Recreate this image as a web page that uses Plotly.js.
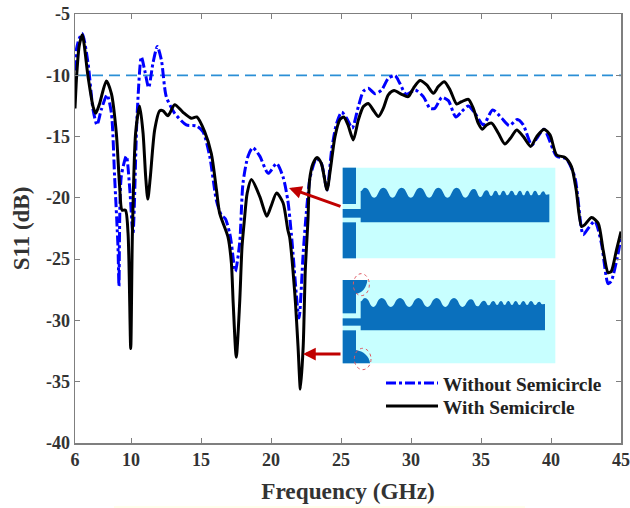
<!DOCTYPE html>
<html>
<head>
<meta charset="utf-8">
<script src="https://cdn.plot.ly/plotly-3.0.1.min.js"></script>
<style>html,body{margin:0;padding:0;background:#fff}</style>
</head>
<body>
<div id="chart" style="width:630px;height:508px"></div>
<script>
var freqWithout = [6,6.1,6.3,6.52,6.93,7.29,7.57,7.88,8.29,8.6,8.83,9.07,9.14,9.3,9.67,9.9,10.14,10.43,10.74,10.98,11.26,11.57,11.88,12.17,12.52,13.12,13.95,14.67,15.14,15.62,16.1,16.45,16.74,17.05,17.17,17.45,17.76,18,18.36,18.7,19.2,19.8,20.4,20.86,21.2,21.45,21.57,22,22.3,22.52,22.8,23.24,23.6,24,24.33,24.69,25.05,25.4,25.8,26.24,26.6,26.95,27.43,27.9,28.38,28.86,29.2,29.64,30.3,30.88,31.36,31.7,32.2,32.67,33.2,33.62,34.1,34.57,35.17,35.83,36.48,37.02,37.6,38.02,38.62,38.98,39.5,40.4,41.07,41.7,42.3,42.65,43.13,43.6,44.08,44.3,44.8,45];
var s11Without = [-9.6,-7.9,-7,-6.6,-9,-12.8,-14.05,-12.8,-11.6,-13.1,-18.3,-24,-27.2,-18.3,-16.6,-19.1,-22.9,-13.4,-8.5,-9.6,-11,-9,-7.66,-8.75,-11.74,-13.1,-14.05,-14.13,-14.6,-16.6,-20.2,-21.4,-21.7,-22.9,-23.7,-26,-23.7,-18.8,-16.6,-15.9,-16.6,-18,-17.2,-18.3,-20.2,-22.9,-24.5,-29.8,-24.5,-21.25,-18.3,-16.8,-17.2,-19.35,-16.1,-13.9,-13,-13.5,-14.3,-12.55,-11.3,-11.06,-11.5,-11.2,-10.24,-10.03,-10.65,-11.55,-11.2,-11.74,-12.7,-12.7,-11.8,-12.07,-13.4,-12.96,-12.5,-13.1,-14.05,-12.83,-13.5,-14.1,-13.6,-14.05,-15.7,-15.14,-14.4,-16.6,-16.8,-18.3,-23,-22.5,-21.9,-23.7,-27,-26.8,-24.5,-23.15];

var freqWith = [6,6.12,6.3,6.52,6.93,7.29,7.48,7.76,8.24,8.6,8.95,9.19,9.36,9.6,9.79,9.98,10.1,10.33,10.62,10.86,11.05,11.2,11.38,11.69,12.05,12.29,12.64,13.12,13.7,14.3,14.7,15.26,15.74,16.1,16.33,16.93,17.17,17.3,17.52,17.76,17.93,18.1,18.3,18.6,19.2,19.7,20,20.4,20.86,21.2,21.33,21.7,21.93,22.1,22.3,22.45,22.64,22.76,23,23.29,23.6,24,24.24,24.57,24.93,25.2,25.5,25.88,26.24,26.6,26.95,27.3,27.67,28.02,28.38,28.79,29.33,29.8,30.17,30.64,31.12,31.6,31.95,32.38,32.79,33.26,33.62,34.1,34.45,34.8,35.1,35.4,35.76,36.24,36.7,37.1,37.55,38.02,38.55,38.98,39.5,39.93,40.4,41,41.46,41.8,42.18,42.4,42.9,43.37,43.72,44.08,44.3,44.68,45];
var s11With = [-12.7,-10,-7.6,-6.7,-10.1,-12.55,-13.1,-12.3,-10.46,-11.5,-14.7,-19.1,-21,-21,-22.9,-32.3,-22.9,-14.7,-12.5,-14.7,-18.3,-20.1,-18.3,-14.46,-12.9,-12.9,-13.3,-12.4,-13,-13.5,-13.4,-14.6,-16.4,-19.3,-21.25,-23.2,-25.3,-28.6,-33,-28.6,-24,-21.8,-19.6,-18.5,-19.9,-21.5,-20.7,-19.6,-20.4,-22.6,-23.2,-27.8,-32.1,-35.6,-32.1,-25.9,-21.8,-18.5,-17.2,-16.7,-17.2,-19.35,-17.7,-15,-13.6,-13.4,-14.05,-15.27,-13.64,-12.55,-12.3,-12.83,-13.37,-12.7,-11.6,-11.25,-11.55,-11.74,-11.06,-10.43,-10.79,-11.47,-10.92,-10.52,-11.2,-12.34,-12.15,-11.96,-12.7,-13.9,-14.4,-14.05,-13.9,-14.73,-15.6,-15.14,-14.46,-15,-15.8,-15,-14.4,-14.86,-16.5,-16.7,-17.45,-19.35,-22.34,-22.2,-21.6,-22.07,-24.24,-26.1,-26,-24.24,-22.75];

var refFreq = [6,45];
var refS11 = [-10,-10];
var xTickVals = [6,10,15,20,25,30,35,40,45];
var xTickText = ['6','10','15','20','25','30','35','40','45'];
var yTickVals = [-5,-10,-15,-20,-25,-30,-35,-40];
var yTickText = ['-5','-10','-15','-20','-25','-30','-35','-40'];
var nameWithout = 'Without Semicircle';
var nameWith = 'With Semicircle';

/* inset drawing helpers: pixel position on the page to axis position */
function fx(px){return 6+(px-75)/14;}
function fy(py){return -5-(py-14)/12.2571;}
function zx(X){return fx(330+X/3);}
function zy(Y){return fy(150+Y/3);}
var CYAN='#c8ffff', BLUE='#0a70bd';
function rect(x0,y0,x1,y1,c){return {type:'rect',xref:'x',yref:'y',x0:zx(x0),y0:zy(y0),x1:zx(x1),y1:zy(y1),fillcolor:c,line:{width:0},layer:'above'};}
function pathShape(d,c,line){return {type:'path',xref:'x',yref:'y',path:d,fillcolor:c,line:line||{width:0},layer:'above'};}
function P(X,Y){return zx(X)+','+zy(Y);}
function scallop(x0,x1,yBottom,yEnd,bumps){
  var d='M'+P(x0,yBottom)+' L'+P(x0,bumps[0][1]+10);
  var prevX=x0,prevY=bumps[0][1]+10;
  bumps.forEach(function(b,i){
    var bx=b[0],top=b[1],val=b[2];
    var next=i<bumps.length-1?bumps[i+1][0]:x1;
    var vx=(bx+next)/2;
    var dl=bx-prevX, dr=vx-bx;
    d+=' C'+P(prevX+dl*0.45,prevY)+' '+P(bx-dl*0.55,top)+' '+P(bx,top);
    d+=' C'+P(bx+dr*0.55,top)+' '+P(vx-dr*0.45,val)+' '+P(vx,val);
    prevX=vx;prevY=val;
  });
  d+=' L'+P(x1,yEnd)+' L'+P(x1,yBottom)+' Z';
  return d;
}
function ellipsePath(cx,cy,rx,ry){
  return {type:'circle',xref:'x',yref:'y',x0:zx(cx-rx),x1:zx(cx+rx),y0:zy(cy-ry),y1:zy(cy+ry),fillcolor:'rgba(0,0,0,0)',line:{color:'#e0565f',width:1,dash:'dot'},layer:'above'};
}
var bumps1=[[105,113,143],[160,113,143],[215,113,143],[270,113,143],[325,113,143],[380,113,143],[432,117,141],[470,121,138],[497,122,136],[520,122,136],[545,122,136],[570,122,136],[592,122,136],[615,122,136],[640,124,134]];
var bumps2=[[105,444,471],[155,444,471],[210,444,471],[265,444,471],[320,444,471],[372,444,471],[423,448,469],[462,452,466],[490,453,465],[513,453,465],[535,453,465],[557,453,465],[580,453,465],[603,453,465],[628,455,463]];

var shapes=[
  rect(38,53,676,325,CYAN),
  rect(38,53,78,162,BLUE),
  rect(38,217,78,325,BLUE),
  rect(38,177,95,203,BLUE),
  pathShape(scallop(92,658,217,133,bumps1),BLUE),
  rect(38,390,676,640,CYAN),
  rect(38,390,78,490,BLUE),
  rect(38,541,78,640,BLUE),
  rect(38,505,95,527,BLUE),
  pathShape(scallop(92,645,541,462,bumps2),BLUE),
  pathShape('M'+P(78,390)+' L'+P(112,390)+' C'+P(110,412)+' '+P(98,428)+' '+P(78,432)+' Z',BLUE),
  pathShape('M'+P(78,640)+' L'+P(120,640)+' C'+P(118,618)+' '+P(100,604)+' '+P(78,600)+' Z',BLUE),
  ellipsePath(94,404,24,33),
  ellipsePath(98,627,25,32),
  {type:'line',xref:'paper',yref:'paper',x0:(114-75)/546,x1:(525-75)/546,y0:(443-507)/429,y1:(443-507)/429,line:{color:'#ffffd8',width:1},layer:'above'}
];

var fontFam='"Liberation Serif","Times New Roman",serif';
var ARROW='#c00000';
var annotations=[
  {xref:'x',yref:'y',axref:'x',ayref:'y',x:fx(289),y:fy(188),ax:fx(342),ay:fy(207),text:'',showarrow:true,arrowhead:2,arrowsize:0.85,arrowwidth:3,arrowcolor:ARROW},
  {xref:'x',yref:'y',axref:'x',ayref:'y',x:fx(303),y:fy(354),ax:fx(342),ay:fy(354),text:'',showarrow:true,arrowhead:2,arrowsize:0.85,arrowwidth:3,arrowcolor:ARROW}
];

var traces=[
  {x:refFreq,y:refS11,mode:'lines',showlegend:false,hoverinfo:'skip',line:{color:'#2b8fd6',width:1.8,dash:'11px,6px'}},
  {x:freqWithout,y:s11Without,mode:'lines',name:nameWithout,legend:'legend',line:{color:'#0000ff',width:3,shape:'spline',smoothing:0.7,dash:'10px,3px,3px,3px'}},
  {x:freqWith,y:s11With,mode:'lines',name:nameWith,legend:'legend2',line:{color:'#000000',width:3,shape:'spline',smoothing:0.7}}
];

var axisBase={showgrid:false,zeroline:false,showline:true,linecolor:'#7f7f7f',linewidth:1.5,mirror:'ticks',ticks:'inside',ticklen:5,tickwidth:1,tickcolor:'#7f7f7f',tickmode:'array',tickfont:{family:fontFam,size:18,color:'#333333',weight:'bold'}};
var legendFont={family:fontFam,size:19.3,color:'#222222',weight:'bold'};

var layout={
  width:630,height:508,autosize:false,
  paper_bgcolor:'#ffffff',plot_bgcolor:'#ffffff',
  margin:{l:75,r:9,t:14,b:65},
  font:{family:fontFam},
  xaxis:Object.assign({},axisBase,{range:[6,45],tickvals:xTickVals,ticktext:xTickText,title:{text:'<b>Frequency (GHz)</b>',font:{family:fontFam,size:23.3,color:'#333333'},standoff:13}}),
  yaxis:Object.assign({},axisBase,{range:[-40,-5],tickvals:yTickVals,ticktext:yTickText,title:{text:'<b>S11 (dB)</b>',font:{family:fontFam,size:23,color:'#333333'},standoff:10}}),
  legend:{x:(381-75)/546,y:(443-364)/429,xanchor:'left',yanchor:'top',bgcolor:'rgba(0,0,0,0)',borderwidth:0,itemwidth:52,font:legendFont},
  legend2:{x:(381-75)/546,y:(443-387)/429,xanchor:'left',yanchor:'top',bgcolor:'rgba(0,0,0,0)',borderwidth:0,itemwidth:52,font:legendFont},
  shapes:shapes,
  annotations:annotations
};
Plotly.newPlot('chart',traces,layout,{displayModeBar:false,staticPlot:true});
</script>
</body>
</html>
